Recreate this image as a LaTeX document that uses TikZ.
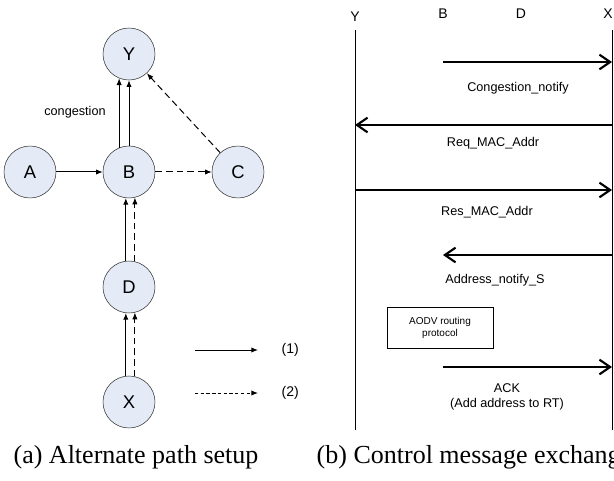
\documentclass[tikz,border=0pt]{standalone}
\usepackage{fontspec}
\setmainfont{Liberation Sans}
\newfontfamily\capfont{Liberation Serif}
\usetikzlibrary{arrows.meta}
\definecolor{nodefill}{RGB}{228,234,246}
\tikzset{
  station/.style={circle,draw=black!80,fill=nodefill,minimum size=39pt,inner sep=0pt,font=\fontsize{13.8}{16}\selectfont},
  link/.style={-{Latex[length=5pt,width=4pt]},line width=0.75pt},
  altlink/.style={link,dash pattern=on 5pt off 3pt},
  msg/.style={-{Straight Barb[length=8pt,width=11pt]},line width=1.6pt},
  lbl/.style={font=\fontsize{9.5}{11.5}\selectfont,align=center},
  head/.style={font=\fontsize{10.5}{12}\selectfont},
  caption/.style={font=\capfont\fontsize{19.5}{22}\selectfont},
}

\begin{document}
\begin{tikzpicture}[x=0.75pt,y=-0.75pt]
\useasboundingbox (0,0) rectangle (614,481);
\clip (0,0) rectangle (614,481);

\node[station] (Y) at (129,54) {Y};
\node[station] (A) at (30,172) {A};
\node[station] (B) at (129,172) {B};
\node[station] (C) at (238,172) {C};
\node[station] (D) at (129,287) {D};
\node[station] (X) at (129,402) {X};

\draw[link] (A) -- (B);
\draw[link] (B.112) -- (Y.248);
\draw[link] (B.north) -- (Y.south);
\node[lbl] (cong) at (75,112) {congestion};
\draw[altlink] (B) -- (C);
\draw[altlink] (C) -- (Y);
\draw[link] (D.97) -- (B.263);
\draw[altlink] (D.77) -- (B.283);
\draw[link] (X.97) -- (D.263);
\draw[altlink] (X.77) -- (D.283);

\coordinate (s1) at (195,350);
\coordinate (e1) at (258,350);
\coordinate (s2) at (195,393);
\coordinate (e2) at (258,393);
\node[head,anchor=west] (k1) at (277,350) {(1)};
\node[head,anchor=west] (k2) at (277,393) {(2)};
\draw[link] (s1) -- (e1);
\draw[link,dash pattern=on 2.5pt off 1.8pt] (s2) -- (e2);

\node[caption] (capA) at (136,457) {(a) Alternate path setup};

\node[head] (hY) at (355,17) {Y};
\node[head] (hB) at (443,14) {B};
\node[head] (hD) at (521,14) {D};
\node[head] (hX) at (608,14) {X};
\coordinate (topY) at (355,30);
\coordinate (endY) at (355,430);
\coordinate (topX) at (612,30);
\coordinate (endX) at (612,430);
\draw (topY) -- (endY);
\draw (topX) -- (endX);

\coordinate (m1) at (0,62);
\coordinate (m2) at (0,125);
\coordinate (m3) at (0,190);
\coordinate (m4) at (0,255);
\coordinate (m5) at (0,367);
\draw[msg] (hB |- m1) -- (topX |- m1);
\draw[msg] (topX |- m2) -- (topY |- m2);
\draw[msg] (topY |- m3) -- (topX |- m3);
\draw[msg] (topX |- m4) -- (hB |- m4);
\draw[msg] (hB |- m5) -- (topX |- m5);

\node[lbl] (t1) at (518,88) {Congestion\_notify};
\node[lbl] (t2) at (493,143) {Req\_MAC\_Addr};
\node[lbl] (t3) at (487,212) {Res\_MAC\_Addr};
\node[lbl] (t4) at (495,280) {Address\_notify\_S};
\node[draw,align=center,minimum width=79.5pt,minimum height=30.75pt,
  font=\fontsize{7.5}{9}\selectfont] (aodv) at (440,327.5) {AODV routing\\protocol};
\node[lbl] (t5) at (507,397) {ACK\\(Add address to RT)};

\node[caption,anchor=west] (capB) at (312,457) {(b) Control message exchange};
\end{tikzpicture}
\end{document}
